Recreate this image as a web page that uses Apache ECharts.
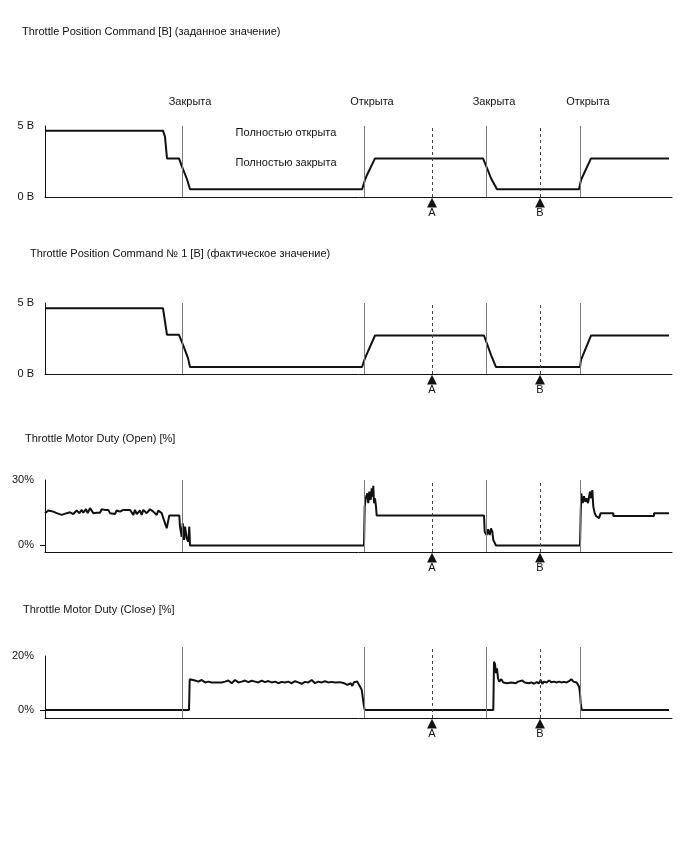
<!DOCTYPE html>
<html>
<head>
<meta charset="utf-8">
<script src="https://cdn.jsdelivr.net/npm/echarts@6/dist/echarts.min.js"></script>
<style>
html,body{margin:0;padding:0;background:#fff;}
#chart{width:688px;height:852px;}
</style>
</head>
<body>
<div id="chart"></div>
<script>
// ---------- data ----------
const timeMax = 627;
const eventTimes = [137, 319, 441, 535];
const stateLabels = ['Закрыта', 'Открыта', 'Закрыта', 'Открыта'];
const markerTimes = [387, 495];
const markerLabels = ['A', 'B'];

const panelTitles = [
  'Throttle Position Command [B] (заданное значение)',
  'Throttle Position Command № 1 [B] (фактическое значение)',
  'Throttle Motor Duty (Open) [%]',
  'Throttle Motor Duty (Close) [%]'
];
const levelNotes = ['Полностью открыта', 'Полностью закрыта'];

const voltTicks = [0, 5];
const openTicks = [0, 30];
const closeTicks = [0, 20];

// Panel 1: commanded throttle position [V]
const cmdTimes = [0, 118, 120, 122, 134, 137, 142, 145, 317, 320, 322, 330, 438, 442, 446, 452, 534, 536, 546, 624];
const cmdValues = [4.67, 4.67, 4.24, 2.72, 2.72, 2.14, 1.25, 0.54, 0.54, 1.20, 1.55, 2.72, 2.72, 2.03, 1.32, 0.54, 0.54, 1.20, 2.72, 2.72];

// Panel 2: actual throttle position [V]
const actTimes = [0, 118, 122, 134, 138, 143, 145, 317, 320, 330, 439, 446, 451, 535, 536, 546, 624];
const actValues = [4.63, 4.63, 2.76, 2.76, 2.05, 1.12, 0.49, 0.49, 1.12, 2.71, 2.71, 1.35, 0.49, 0.49, 1.0, 2.71, 2.71];

// Panel 3: motor duty open [%]
const openTimes = [0, 3.3, 5, 8.3, 11.7, 13.3, 16.7, 18.3, 21.7, 23.3, 25, 28.3, 31.7, 34.3, 36.7, 38.3, 41, 42.7, 45, 48.3,
  51.7, 55, 56.7, 60, 63.3, 65, 66.7, 70, 71.7, 75, 78.3, 85, 86.7, 88.3, 90, 91.7, 95, 96.7, 98.3, 101.7,
  105, 108.3, 111.7, 113.3, 116.7, 118.3, 121.7, 123.3, 124.3, 134.3, 135, 136.7, 137.7, 139, 140, 141.7, 143.3, 144.3, 145,
  319, 319.7, 320.7, 322.3, 323.3, 324.3, 325.7, 326.7, 327.7, 328.3, 329, 330, 331, 331.7,
  439, 439.7, 441.7, 443, 444.7, 446, 447.3, 448.3, 449.7, 451,
  535, 535.7, 536.3, 537.7, 539, 540.3, 541.7, 543, 545, 546.3, 547.3, 548.3, 549.7, 551, 552.3, 554, 555.7, 568.3, 568.3, 609, 609, 624];
const openValues = [14.8, 16.0, 16.0, 15.5, 14.8, 14.0, 14.0, 14.8, 14.8, 14.3, 15.2, 14.4, 16.0, 14.8, 16.3, 15.0, 16.6, 14.8, 17.1, 14.8,
  15.0, 15.0, 16.6, 16.3, 16.3, 14.8, 14.4, 14.4, 16.0, 15.5, 16.3, 16.3, 15.5, 14.0, 16.3, 14.4, 16.0, 14.0, 16.3, 14.8,
  16.6, 15.5, 14.0, 16.0, 14.8, 12.5, 7.9, 11.5, 13.7, 13.7, 8.6, 4.0, 10.2, 2.5, 8.6, 3.3, 1.7, 8.6, 0,
  0, 17.8, 21.6, 23.9, 19.4, 24.7, 20.9, 26.2, 22.4, 27.3, 19.4, 21.6, 17.8, 13.7,
  13.7, 6.3, 4.8, 7.4, 4.8, 7.8, 6.3, 2.5, 1.2, 0,
  0, 14.8, 23.9, 19.4, 22.6, 20.0, 21.6, 19.4, 24.7, 21.6, 25.4, 17.8, 14.8, 13.5, 14.4, 12.5, 14.8, 14.8, 13.5, 13.5, 14.8, 14.8];

// Panel 4: motor duty close [%]
const closeTimes = [0, 144, 144.7, 146.7, 150, 153.3, 156.7, 160, 163.3, 166.7, 176.7, 180, 183.3, 186.7, 190, 193.3, 196.7, 200,
  203.3, 206.7, 210, 213.3, 216.7, 220, 223.3, 226.7, 230, 233.3, 236.7, 240, 243.3, 246.7, 250, 253.3, 256.7, 260,
  263.3, 266.7, 270, 273.3, 276.7, 280, 283.3, 286.7, 290, 295,
  299, 302.3, 305.7, 307.3, 309, 310.7, 312.3, 314, 315.7, 316.7, 318, 319, 319.7,
  448.3, 449, 450, 451, 452, 453, 454.3, 456.3, 458.3, 460.3, 462.3, 464.3, 466.3, 468.3, 470.7, 473, 475, 477.3, 479.7,
  481.7, 484, 486.3, 489, 491.7, 494, 495.7, 497.3, 499, 501.7, 504, 506.3, 509, 511.7, 514, 516.3, 519, 521.7, 524,
  526.3, 528.3, 530, 531.7, 533, 534, 535, 535.7, 536.7, 624];
const closeValues = [0, 0, 11.4, 11.4, 10.9, 10.5, 11.1, 10.2, 10.5, 10.2, 10.2, 10.5, 10.9, 9.9, 11.1, 10.2, 10.5, 10.9,
  10.3, 10.8, 10.5, 10.2, 10.9, 10.3, 10.7, 10.2, 10.5, 9.9, 10.4, 10.2, 10.5, 9.9, 10.65, 10.2, 9.7, 10.4,
  10.2, 11.1, 9.9, 10.5, 10.2, 10.65, 10.2, 10.4, 10.2, 10.3,
  9.9, 9.3, 9.9, 8.9, 10.3, 9.7, 10.5, 9.3, 9.9, 7.5, 3.8, 1.3, 0,
  0, 17.9, 17.0, 13.6, 15.4, 11.7, 10.5, 11.4, 10.2, 10.9, 9.9, 10.5, 10.2, 10.9, 9.9, 10.5, 9.9, 10.9, 10.2,
  10.4, 9.9, 10.2, 9.7, 10.3, 9.9, 11.1, 9.7, 10.5, 10.2, 10.9, 10.3, 10.5, 10.2, 10.5, 10.2, 10.4, 10.2, 10.65,
  11.4, 10.5, 11.1, 10.2, 9.9, 8.7, 6.2, 2.5, 0, 0];

// ---------- build ----------
const zip = (a, b) => a.map((t, i) => [t, b[i]]);
const font = "'Liberation Sans', Arial, Helvetica, sans-serif";
const ink = '#111';

const gridBoxes = [
  { left: 45, right: 16, top: 126, height: 71 },
  { left: 45, right: 16, top: 303, height: 71 },
  { left: 45, right: 16, top: 480, height: 72 },
  { left: 45, right: 16, top: 656, height: 62 },
  { left: 45, right: 16, top: 647, height: 71 } // overlay for panel 4 event lines
];

function bottomXAxis(i) {
  return {
    type: 'value', gridIndex: i, min: 0, max: timeMax,
    axisLine: { show: true, onZero: false, lineStyle: { color: ink, width: 1 } },
    axisTick: { show: false },
    splitLine: { show: false },
    axisLabel: {
      customValues: markerTimes,
      margin: 1,
      formatter: v => '{tri|▲}\n{txt|' + markerLabels[markerTimes.indexOf(v)] + '}',
      rich: {
        tri: { fontSize: 13, lineHeight: 9, color: ink, fontFamily: 'DejaVu Sans' },
        txt: { fontSize: 11, lineHeight: 12, color: ink, fontFamily: font }
      }
    }
  };
}

function yAxisFor(i, min, max, ticks, unit, withTick) {
  return {
    type: 'value', gridIndex: i, min: min, max: max,
    axisLine: { show: true, lineStyle: { color: ink, width: 1 } },
    axisTick: withTick ? { show: true, customValues: [0], length: 5, lineStyle: { color: ink } } : { show: false },
    splitLine: { show: false },
    axisLabel: {
      customValues: ticks, margin: 11,
      formatter: v => v + unit,
      fontSize: 11, color: ink, fontFamily: font
    }
  };
}

const eventMarkLine = {
  silent: true, symbol: ['none', 'none'], label: { show: false }, animation: false,
  data: [
    ...eventTimes.map(t => ({ xAxis: t, lineStyle: { color: '#7a7a7a', width: 1, type: 'solid' } })),
    ...markerTimes.map(t => ({ xAxis: t, lineStyle: { color: '#444', width: 1, type: [3, 3] } }))
  ]
};

function dataSeries(i, times, values, withMarks) {
  return {
    type: 'line', xAxisIndex: i, yAxisIndex: i,
    data: zip(times, values),
    symbol: 'none', animation: false, silent: true,
    lineStyle: { color: ink, width: 2 },
    markLine: withMarks ? eventMarkLine : undefined,
    z: 3
  };
}

const titleTops = [26, 248, 433, 604];
const titleLefts = [22, 30, 25, 23];

const option = {
  backgroundColor: '#fff',
  animation: false,
  title: panelTitles.map((t, i) => ({
    text: t, left: titleLefts[i], top: titleTops[i], padding: 0,
    textStyle: { fontSize: 11, fontWeight: 'normal', color: ink, fontFamily: font }
  })),
  grid: gridBoxes,
  xAxis: [
    bottomXAxis(0), bottomXAxis(1), bottomXAxis(2), bottomXAxis(3),
    { type: 'value', gridIndex: 4, min: 0, max: timeMax, show: false },
    {
      type: 'value', gridIndex: 0, position: 'top', min: 0, max: timeMax,
      axisLine: { show: false }, axisTick: { show: false }, splitLine: { show: false },
      axisLabel: {
        customValues: eventTimes, margin: 19, padding: [0, 0, 0, 16],
        formatter: v => stateLabels[eventTimes.indexOf(v)],
        fontSize: 11, color: ink, fontFamily: font
      }
    }
  ],
  yAxis: [
    yAxisFor(0, 0, 5, voltTicks, ' В', false),
    yAxisFor(1, 0, 5, voltTicks, ' В', false),
    yAxisFor(2, -3, 30, openTicks, '%', true),
    yAxisFor(3, -3, 20, closeTicks, '%', true),
    { type: 'value', gridIndex: 4, min: 0, max: 1, show: false }
  ],
  graphic: levelNotes.map((t, i) => ({
    type: 'text', x: 286, y: i === 0 ? 133 : 163,
    style: { text: t, fill: ink, font: '11px ' + font, textAlign: 'center', textVerticalAlign: 'middle' }
  })),
  series: [
    dataSeries(0, cmdTimes, cmdValues, true),
    dataSeries(1, actTimes, actValues, true),
    dataSeries(2, openTimes, openValues, true),
    dataSeries(3, closeTimes, closeValues, false),
    { type: 'line', xAxisIndex: 4, yAxisIndex: 4, data: [], symbol: 'none', markLine: eventMarkLine, animation: false, silent: true }
  ]
};

const chart = echarts.init(document.getElementById('chart'), null, { renderer: 'canvas' });
chart.setOption(option);
</script>
</body>
</html>
